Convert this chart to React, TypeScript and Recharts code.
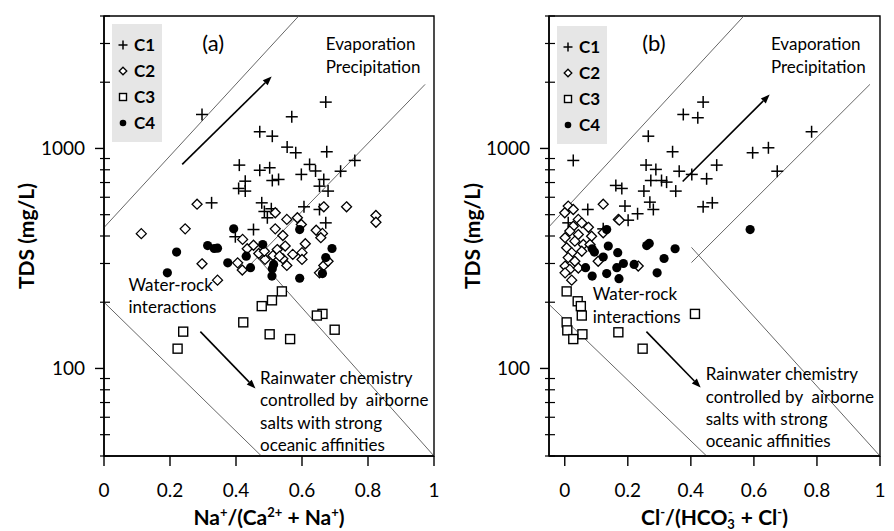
import React from 'react';
import { ScatterChart, Scatter, XAxis, YAxis, ReferenceLine, ReferenceDot, ReferenceArea, Legend } from 'recharts';

const groups = ['C1', 'C2', 'C3', 'C4'];
const tdsTicks = [40, 50, 60, 70, 80, 90, 100, 200, 300, 400, 500, 600, 700, 800, 900, 1000, 2000, 3000, 4000];
const ratioTicks = [0, 0.2, 0.4, 0.6, 0.8, 1];

// (a) Na+/(Ca2+ + Na+) against TDS (mg/L)
const naC1: [number, number][] = [
  [0.297, 1427], [0.672, 1624], [0.569, 1393], [0.472, 1191], [0.51, 1137], [0.555, 1014], [0.581, 956],
  [0.675, 966], [0.76, 882], [0.41, 840], [0.472, 796], [0.502, 817], [0.623, 846], [0.641, 790],
  [0.598, 762], [0.529, 723], [0.51, 715], [0.666, 723], [0.717, 788], [0.428, 710], [0.408, 658],
  [0.428, 640], [0.653, 674], [0.679, 640], [0.326, 566], [0.478, 566], [0.507, 532], [0.606, 543],
  [0.653, 528], [0.495, 484], [0.672, 459], [0.453, 428], [0.398, 397], [0.486, 517],
];
const naC2: [number, number][] = [
  [0.282, 558], [0.113, 410], [0.246, 431], [0.519, 510], [0.554, 476], [0.586, 484], [0.598, 451],
  [0.666, 543], [0.735, 543], [0.824, 496], [0.824, 462], [0.519, 431], [0.542, 402], [0.643, 425],
  [0.662, 411], [0.657, 393], [0.42, 386], [0.434, 350], [0.453, 363], [0.469, 333], [0.488, 313],
  [0.512, 326], [0.525, 347], [0.549, 360], [0.61, 369], [0.572, 330], [0.6, 336], [0.6, 313],
  [0.542, 315], [0.554, 294], [0.405, 302], [0.419, 280], [0.297, 299], [0.344, 252], [0.666, 294],
  [0.679, 307], [0.653, 272], [0.486, 341], [0.532, 324],
];
const naC3: [number, number][] = [
  [0.539, 224], [0.509, 204], [0.478, 192], [0.422, 162], [0.662, 177], [0.645, 174], [0.699, 150],
  [0.24, 147], [0.502, 143], [0.564, 136], [0.223, 123],
];
const naC4: [number, number][] = [
  [0.393, 431], [0.593, 428], [0.314, 362], [0.334, 351], [0.344, 352], [0.22, 338], [0.481, 366],
  [0.431, 324], [0.375, 302], [0.444, 287], [0.514, 297], [0.51, 284], [0.509, 263], [0.593, 257],
  [0.192, 272], [0.691, 351], [0.672, 319], [0.662, 270],
];

// (b) Cl-/(HCO3- + Cl-) against TDS (mg/L)
const clC1: [number, number][] = [
  [0.027, 882], [0.439, 1624], [0.376, 1427], [0.422, 1379], [0.265, 1137], [0.783, 1191], [0.342, 966],
  [0.596, 956], [0.646, 1007], [0.674, 788], [0.482, 840], [0.258, 840], [0.289, 803], [0.363, 788],
  [0.403, 762], [0.45, 728], [0.273, 715], [0.307, 715], [0.323, 703], [0.162, 679], [0.181, 658],
  [0.251, 640], [0.352, 640], [0.27, 570], [0.281, 528], [0.191, 547], [0.231, 505], [0.201, 472],
  [0.073, 528], [0.439, 543], [0.468, 566], [0.122, 431], [0.011, 459],
];
const clC2: [number, number][] = [
  [0.011, 547], [0.027, 528], [0.0, 510], [0.122, 558], [0.17, 476], [0.043, 476], [0.054, 459],
  [0.075, 438], [0.027, 443], [0.085, 399], [0.016, 421], [0.043, 406], [0.001, 393], [0.032, 379],
  [0.059, 366], [0.08, 366], [0.006, 354], [0.022, 336], [0.054, 341], [0.106, 307], [0.122, 414],
  [0.011, 319], [0.032, 307], [0.001, 292], [0.016, 282], [0.043, 286], [0.001, 272], [0.022, 252],
  [0.233, 292], [0.173, 472],
];
const clC3: [number, number][] = [
  [0.006, 224], [0.041, 202], [0.051, 192], [0.054, 174], [0.413, 177], [0.006, 162], [0.008, 149],
  [0.17, 146], [0.056, 143], [0.027, 136], [0.247, 123],
];
const clC4: [number, number][] = [
  [0.133, 428], [0.588, 428], [0.26, 362], [0.268, 370], [0.35, 350], [0.138, 360], [0.168, 336],
  [0.087, 350], [0.094, 338], [0.122, 321], [0.186, 300], [0.22, 297], [0.315, 316], [0.165, 287],
  [0.066, 287], [0.087, 263], [0.133, 270], [0.172, 256], [0.293, 272],
];

// Gibbs boundary lines and arrows: [x1, tds1, x2, tds2]
const naBounds = [[0, 437, 0.59, 4000], [0.441, 294, 0.973, 1955], [0.456, 330, 1, 40], [0, 200, 0.477, 40]];
const naArrows = [[0.237, 846, 0.508, 2124], [0.292, 147, 0.459, 81]];
const clBounds = [[-0.049, 442, 0.568, 4000], [0.402, 303, 0.968, 1955], [0.402, 355, 1, 40], [-0.049, 195, 0.45, 40]];
const clArrows = [[0.374, 708, 0.65, 1758], [0.259, 147, 0.431, 82]];

// annotations: [text, x, tds]
const naNotes: [string, number, number][] = [
  ['Evaporation', 0.672, 3000], ['Precipitation', 0.672, 2358],
  ['Water-rock', 0.074, 241], ['interactions', 0.074, 191],
  ['Rainwater chemistry', 0.473, 90.8], ['controlled by  airborne', 0.473, 72.3],
  ['salts with strong', 0.473, 57], ['oceanic affinities', 0.473, 45.2],
];
const clNotes: [string, number, number][] = [
  ['Evaporation', 0.654, 3000], ['Precipitation', 0.654, 2358],
  ['Water-rock', 0.0885, 219], ['interactions', 0.0885, 173],
  ['Rainwater chemistry', 0.447, 94.9], ['controlled by  airborne', 0.447, 74.8],
  ['salts with strong', 0.447, 59.3], ['oceanic affinities', 0.447, 46.8],
];

const toPts = (arr: [number, number][]) => arr.map(([x, y]) => ({ x, y }));

const Plus = ({ cx, cy, s = 6 }: any) => (
  <g stroke="#000" strokeWidth={1.5}>
    <line x1={cx - s} x2={cx + s} y1={cy} y2={cy} />
    <line x1={cx} x2={cx} y1={cy - s} y2={cy + s} />
  </g>
);
const Diamond = ({ cx, cy, s = 5 }: any) => (
  <polygon points={`${cx},${cy - s} ${cx + s},${cy} ${cx},${cy + s} ${cx - s},${cy}`} fill="#fff" stroke="#000" strokeWidth={1.3} />
);
const Square = ({ cx, cy, s = 4.5 }: any) => (
  <rect x={cx - s} y={cy - s} width={2 * s} height={2 * s} fill="#fff" stroke="#000" strokeWidth={1.4} />
);
const Dot = ({ cx, cy, s = 4.6 }: any) => <circle cx={cx} cy={cy} r={s} fill="#000" />;

const markers = [Plus, Diamond, Square, Dot];
const legendSizes = [4.5, 3.8, 3.5, 3.3];

const Arrow = (p: any) => {
  const { x1, y1, x2, y2 } = p;
  const a = Math.atan2(y2 - y1, x2 - x1);
  const h = 9, w = 3.5;
  const bx = x2 - h * Math.cos(a), by = y2 - h * Math.sin(a);
  const pts = `${x2},${y2} ${bx + w * Math.sin(a)},${by - w * Math.cos(a)} ${bx - w * Math.sin(a)},${by + w * Math.cos(a)}`;
  return (
    <g>
      <line x1={x1} y1={y1} x2={bx} y2={by} stroke="#000" strokeWidth={1.6} />
      <polygon points={pts} fill="#000" />
    </g>
  );
};

const XTick = ({ x, y, payload }: any) => (
  <g>
    <line x1={x} x2={x} y1={y} y2={y + 10} stroke="#000" strokeWidth={1.4} />
    <text x={x} y={y + 41} textAnchor="middle" fontSize={19} fill="#000">{payload.value}</text>
  </g>
);

const YTick = ({ x, y, payload }: any) => {
  const major = payload.value === 100 || payload.value === 1000;
  return (
    <g>
      {major
        ? <line x1={x - 9} x2={x} y1={y} y2={y} stroke="#000" strokeWidth={1.4} />
        : <line x1={x - 4} x2={x + 6} y1={y} y2={y} stroke="#000" strokeWidth={1.2} />}
      {major && <text x={x - 19} y={y + 6.5} textAnchor="end" fontSize={19} fill="#000">{payload.value}</text>}
    </g>
  );
};

const YTitle = ({ viewBox, dx }: any) => {
  const x = viewBox.x + dx;
  const y = viewBox.y + viewBox.height / 2;
  return (
    <text x={x} y={y} transform={`rotate(-90 ${x} ${y})`} textAnchor="middle" dominantBaseline="central" fontSize={21} fontWeight="bold" fill="#000">
      TDS (mg/L)
    </text>
  );
};

const NaTitle = ({ viewBox }: any) => (
  <text x={viewBox.x + viewBox.width / 2} y={viewBox.y + 69} textAnchor="middle" fontSize={21} fontWeight="bold" fill="#000">
    Na<tspan dy={-8} fontSize={13}>+</tspan>
    <tspan dy={8}>/(Ca</tspan><tspan dy={-8} fontSize={13}>2+</tspan>
    <tspan dy={8}> + Na</tspan><tspan dy={-8} fontSize={13}>+</tspan>
    <tspan dy={8}>)</tspan>
  </text>
);

const ClTitle = ({ viewBox }: any) => (
  <text x={viewBox.x + viewBox.width / 2} y={viewBox.y + 69} textAnchor="middle" fontSize={21} fontWeight="bold" fill="#000">
    Cl<tspan dy={-8} fontSize={13}>-</tspan>
    <tspan dy={8}>/(HCO</tspan><tspan dy={4} fontSize={13}>3</tspan>
    <tspan dx={-7} dy={-12} fontSize={13}>-</tspan>
    <tspan dx={3} dy={8}> + Cl</tspan><tspan dy={-8} fontSize={13}>-</tspan>
    <tspan dy={8}>)</tspan>
  </text>
);

const LegendBox = () => (
  <div style={{ background: '#e6e6e6', width: 50, height: 118, paddingTop: 8, boxSizing: 'border-box' }}>
    {groups.map((g, i) => {
      const M = markers[i];
      return (
        <div key={g} style={{ display: 'flex', alignItems: 'center', height: 26 }}>
          <svg width={22} height={26}><M cx={11} cy={13} s={legendSizes[i]} /></svg>
          <span style={{ fontWeight: 700, fontSize: 17, lineHeight: '26px', color: '#000' }}>{g}</span>
        </div>
      );
    })}
  </div>
);

const Note = ({ cx, cy, text }: any) => (
  <text x={cx} y={cy} dominantBaseline="central" fontSize={17} fill="#000" style={{ whiteSpace: 'pre' }}>{text}</text>
);

const Panel = ({ tag, tagX, series, xMin, bounds, arrows, notes, yAxisWidth, width, titleDx, legendPos, XTitle }: any) => (
  <ScatterChart width={width} height={531} margin={{ top: 16, right: width - yAxisWidth - 330 - (xMin < 0 ? 1 : 0), bottom: 3, left: 0 }}>
    <XAxis type="number" dataKey="x" domain={[xMin, 1]} ticks={ratioTicks} interval={0} allowDataOverflow
      tick={<XTick />} tickSize={0} tickMargin={0} tickLine={false} height={72}
      axisLine={{ stroke: '#000', strokeWidth: 1.5 }} label={<XTitle />} />
    <YAxis type="number" dataKey="y" scale="log" domain={[40, 4000]} ticks={tdsTicks} interval={0} allowDataOverflow
      tick={<YTick />} tickSize={0} tickMargin={0} tickLine={false} width={yAxisWidth}
      axisLine={{ stroke: '#000', strokeWidth: 1.5 }} label={<YTitle dx={titleDx} />} />
    <ReferenceArea x1={xMin} x2={1} y1={40} y2={4000} fill="none" stroke="#000" strokeWidth={1.4} ifOverflow="visible" />
    {bounds.map((b: number[], i: number) => (
      <ReferenceLine key={`b${i}`} segment={[{ x: b[0], y: b[1] }, { x: b[2], y: b[3] }]} stroke="#555" strokeWidth={0.9} ifOverflow="visible" />
    ))}
    {arrows.map((b: number[], i: number) => (
      <ReferenceLine key={`a${i}`} segment={[{ x: b[0], y: b[1] }, { x: b[2], y: b[3] }]} ifOverflow="visible" shape={Arrow} />
    ))}
    <ReferenceDot x={tagX} y={3034} ifOverflow="visible"
      shape={(p: any) => <text x={p.cx} y={p.cy} textAnchor="middle" dominantBaseline="central" fontSize={22} fill="#000">{tag}</text>} />
    {notes.map(([t, x, y]: [string, number, number]) => (
      <ReferenceDot key={t} x={x} y={y} ifOverflow="visible" shape={(p: any) => <Note cx={p.cx} cy={p.cy} text={t} />} />
    ))}
    {series.map((s: [number, number][], i: number) => {
      const M = markers[i];
      return <Scatter key={groups[i]} name={groups[i]} data={toPts(s)} isAnimationActive={false} shape={(p: any) => <M cx={p.cx} cy={p.cy} />} />;
    })}
    <Legend layout="vertical" align="center" verticalAlign="middle" content={() => <LegendBox />}
      wrapperStyle={{ left: legendPos[0], top: legendPos[1], width: 50, height: 118 }} />
  </ScatterChart>
);

export default function App() {
  return (
    <div style={{ position: 'absolute', left: 0, top: 0, width: 894, height: 531, background: '#fff', fontFamily: 'Lato, sans-serif' }}>
      <div style={{ position: 'absolute', left: 0, top: 0 }}>
        <Panel tag="(a)" tagX={0.331} series={[naC1, naC2, naC3, naC4]} xMin={0} bounds={naBounds} arrows={naArrows}
          notes={naNotes} yAxisWidth={104} width={450} titleDx={25} legendPos={[112, 24]} XTitle={NaTitle} />
      </div>
      <div style={{ position: 'absolute', left: 450, top: 0 }}>
        <Panel tag="(b)" tagX={0.283} series={[clC1, clC2, clC3, clC4]} xMin={-0.05} bounds={clBounds} arrows={clArrows}
          notes={clNotes} yAxisWidth={99} width={444} titleDx={21} legendPos={[107, 26]} XTitle={ClTitle} />
      </div>
    </div>
  );
}
